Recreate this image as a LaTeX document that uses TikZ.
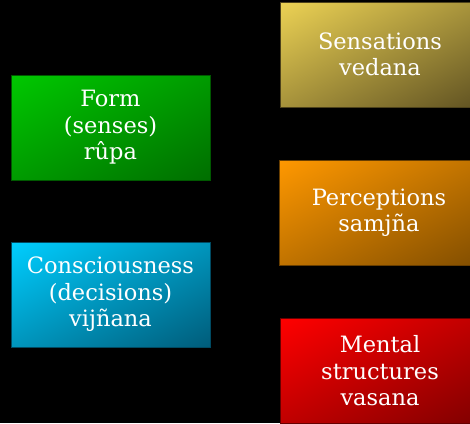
\documentclass[tikz,border=0pt]{standalone}
\usepackage{fontspec}
\setmainfont{DejaVu Serif}
\usetikzlibrary{shadings}

\definecolor{formlight}{RGB}{0,200,0}
\definecolor{formdark}{RGB}{0,110,0}
\definecolor{senslight}{RGB}{236,210,84}
\definecolor{sensdark}{RGB}{96,82,34}
\definecolor{conslight}{RGB}{0,206,255}
\definecolor{consdark}{RGB}{0,92,122}
\definecolor{perclight}{RGB}{255,152,0}
\definecolor{percdark}{RGB}{130,78,0}
\definecolor{mentlight}{RGB}{255,0,0}
\definecolor{mentdark}{RGB}{128,0,0}

\begin{document}
\begin{tikzpicture}[x=1pt,y=-1pt,
	box/.style={rectangle, draw=#1dark!80!black, line width=0.8pt,
		upper left=#1light, lower right=#1dark,
		upper right=#1light!50!#1dark, lower left=#1light!50!#1dark,
		minimum width=199pt, minimum height=105pt, inner sep=0pt,
		align=center, text=white,
		font=\fontsize{22.5}{26.5}\selectfont},
	]
			
			% background
			\fill[black] (0,0) rectangle (470,423);
			\useasboundingbox (0,0) rectangle (470,423);
			
			% left column
			\node[box=form] (form) at (110.5,127.5) {Form\\(senses)\\rûpa};
			\node[box=cons] (cons) at (110.5,294.5) {Consciousness\\(decisions)\\vijñana};
			
			% right column
			\node[box=sens] (sens) at (380,54.5) {Sensations\\vedana};
			\node[box=perc] (perc) at (379,212.5) {Perceptions\\samjña};
			\node[box=ment] (ment) at (380,371) {Mental\\structures\\vasana};
			
		\end{tikzpicture}
\end{document}
